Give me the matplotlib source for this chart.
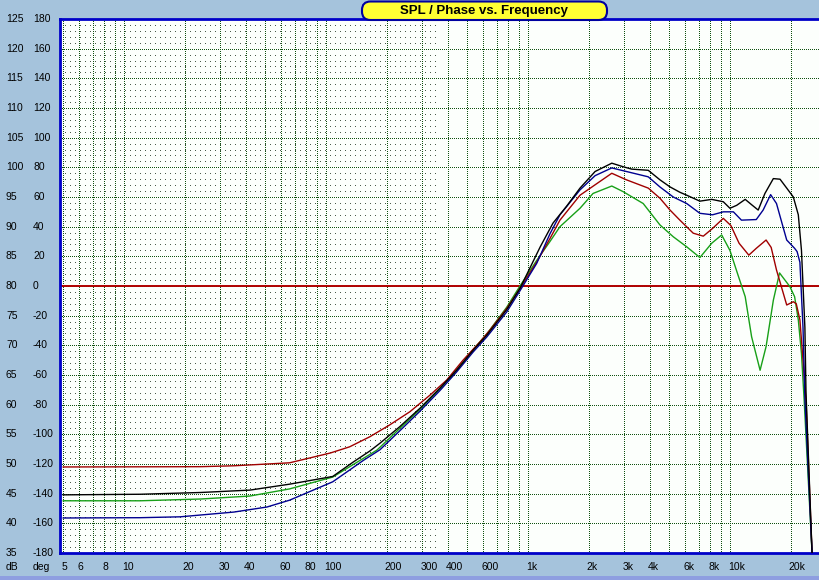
import matplotlib.pyplot as plt
from matplotlib.patches import FancyBboxPatch, Rectangle
from matplotlib.transforms import blended_transform_factory, ScaledTranslation

# axis labels
db_ticks = list(range(35, 126, 5))
deg_ticks = list(range(-180, 181, 20))
x_ticks = [5, 6, 8, 10, 20, 30, 40, 60, 80, 100, 200, 300, 400, 600,
           1000, 2000, 3000, 4000, 6000, 8000, 10000, 20000]
x_labels = ["5", "6", "8", "10", "20", "30", "40", "60", "80", "100", "200",
            "300", "400", "600", "1k", "2k", "3k", "4k", "6k", "8k", "10k", "20k"]

# SPL curves (Hz, dB)
black_f = [5, 12, 24, 42, 66, 108, 136, 165, 185, 232, 292, 367, 443, 536, 625,
           784, 913, 1150, 1330, 1550, 1810, 2150, 2600, 2960, 3260, 3940, 4500,
           5050, 5650, 6110, 7100, 8120, 9270, 10000, 10800, 11900, 12800, 13800,
           14900, 16400, 17700, 19100, 20600, 21800, 22600, 23500, 23800, 25500]
black_db = [44.8, 44.9, 45.2, 45.6, 46.6, 47.9, 50.3, 52.2, 53.5, 56.3, 59.4,
            62.8, 65.8, 69.2, 71.7, 76.0, 79.6, 86.6, 90.6, 93.4, 96.5, 99.3,
            100.7, 100.1, 99.7, 99.5, 97.9, 96.7, 95.8, 95.3, 94.3, 94.6, 94.2,
            93.1, 93.6, 94.6, 93.7, 92.8, 95.6, 98.1, 98.0, 96.5, 95.0, 92.0,
            86.0, 73.0, 62.0, 35.0]

blue_f = [5, 12, 19, 35, 51, 66, 108, 153, 185, 232, 292, 367, 443, 536, 625,
          784, 913, 1104, 1285, 1440, 1810, 2150, 2600, 3070, 3940, 4500, 5240,
          6110, 7100, 8200, 9270, 10400, 11400, 13500, 14600, 15900, 17000,
          18300, 19100, 20900, 21500, 22200, 23000, 23500, 25500]
blue_db = [40.9, 40.95, 41.1, 41.9, 42.75, 43.9, 47.0, 50.6, 52.4, 55.6, 58.9,
           62.4, 65.5, 68.9, 71.4, 75.6, 79.2, 83.8, 88.8, 92.0, 96.2, 98.6,
           99.9, 99.3, 98.4, 96.7, 95.0, 93.9, 92.25, 92.0, 92.5, 92.5, 91.1,
           91.2, 92.8, 95.4, 93.9, 90.0, 87.75, 86.35, 85.8, 84.0, 73.0, 61.0,
           35.0]

red_f = [5, 24, 35, 66, 105, 131, 165, 207, 260, 327, 396, 477, 579, 649, 784,
         913, 1104, 1285, 1440, 1810, 2600, 3070, 3940, 4500, 5050, 5650, 6580,
         7380, 8200, 9270, 10100, 11100, 12400, 13500, 15100, 16000, 17000,
         19100, 20600, 21300, 22200, 23000, 23800, 25500]
red_db = [49.5, 49.55, 49.7, 50.2, 51.85, 52.9, 54.6, 56.6, 58.8, 61.6, 64.15,
          67.5, 70.6, 72.6, 76.2, 79.6, 84.0, 88.0, 91.1, 95.3, 99.0, 97.9,
          96.5, 94.8, 92.8, 91.1, 88.9, 88.4, 89.7, 91.4, 90.2, 87.2, 85.2,
          86.35, 87.75, 86.5, 82.7, 76.8, 77.35, 77.0, 74.3, 67.5, 60.8, 35.0]

green_f = [5, 12, 24, 42, 66, 108, 179, 232, 292, 367, 443, 536, 625, 784, 913,
           1104, 1285, 1440, 1810, 2100, 2600, 2960, 3720, 4500, 5240, 6110,
           7100, 8120, 9100, 10000, 10900, 11900, 12800, 14100, 15100, 16400,
           17600, 19800, 20900, 21800, 22600, 23300, 25500]
green_db = [43.8, 43.8, 44.1, 44.6, 45.8, 47.8, 52.36, 56.0, 59.2, 62.7, 65.8,
            69.3, 71.9, 76.4, 80.0, 84.3, 87.5, 90.0, 93.1, 95.6, 96.85, 95.9,
            93.9, 90.3, 88.3, 86.6, 84.8, 87.2, 88.6, 86.0, 82.1, 78.2, 71.45,
            65.8, 69.8, 77.6, 82.2, 79.9, 78.2, 74.3, 68.6, 60.8, 35.0]

W, H = 819, 580
fig = plt.figure(figsize=(W / 100, H / 100), dpi=100, facecolor='#a5c3dc')
ax = fig.add_axes([60 / W, 27 / H, (W - 60) / W, 534 / H])
ax.set_facecolor('#fcfffc')
ax.set_xscale('log')
ax.set_xlim(4.82, 27600)
ax.set_ylim(35, 125)
ax.set_xticks([])
ax.set_yticks([])
ax.minorticks_off()
for s in ['left', 'bottom', 'top']:
    ax.spines[s].set_color('#0000c8')
    ax.spines[s].set_linewidth(2)
ax.spines['right'].set_visible(False)

# fine 1 dB grid, only drawn on the low frequency part
for v in range(36, 125):
    if v % 5:
        ax.plot([4.82, 360], [v, v], color='#4a5a4a', lw=0.72,
                linestyle=(0, (1, 5)), antialiased=False, zorder=1)
# major grid
for v in db_ticks:
    ax.axhline(v, color='#105010', lw=0.72, linestyle=(0, (1, 2)),
               antialiased=False, zorder=1)
for dec in [1, 10, 100, 1000, 10000]:
    for m in range(1, 10):
        f = m * dec
        if 5 <= f <= 20000:
            ax.axvline(f, color='#105010', lw=0.72, linestyle=(0, (1, 2)),
                       antialiased=False, zorder=1)

ax.axhline(80, color='#b00000', lw=1.4, zorder=2)

ax.plot(green_f, green_db, color='#18a018', lw=1.0, zorder=3)
ax.plot(red_f, red_db, color='#a00000', lw=1.0, zorder=3)
ax.plot(blue_f, blue_db, color='#000090', lw=1.0, zorder=4)
ax.plot(black_f, black_db, color='black', lw=1.0, zorder=5)

lab = dict(fontsize=7.5, family='Liberation Sans', va='center', ha='left')
ytr = blended_transform_factory(fig.transFigure, ax.transData)
for d, g in zip(db_ticks, deg_ticks):
    fig.text(6 / W, d, str(d), transform=ytr, **lab)
    fig.text(33 / W, d, str(g), transform=ytr, **lab)

xtr = blended_transform_factory(ax.transData, fig.transFigure) + \
    ScaledTranslation(-2 / 100, 0, fig.dpi_scale_trans)
for f, t in zip(x_ticks, x_labels):
    fig.text(f, 13 / H, t, transform=xtr, **lab)
fig.text(6 / W, 13 / H, "dB", **lab)
fig.text(33 / W, 13 / H, "deg", **lab)

# bottom strip
fig.add_artist(Rectangle((0, 0), 1, 4 / H, transform=fig.transFigure,
                         facecolor='#8e9ee0', edgecolor='none'))

# title box
box = FancyBboxPatch((3.62, 5.60), 2.45, 0.185,
                     boxstyle="round,pad=0,rounding_size=0.085",
                     transform=fig.dpi_scale_trans, facecolor='#ffff33',
                     edgecolor='#0000a0', lw=1.5, zorder=10)
fig.add_artist(box)
fig.text(484 / W, (H - 11) / H, "SPL / Phase vs. Frequency", ha='center',
         va='center', fontsize=9.5, fontweight='bold', family='Liberation Sans',
         zorder=11)

fig.savefig('out.png', dpi=100, facecolor=fig.get_facecolor())
